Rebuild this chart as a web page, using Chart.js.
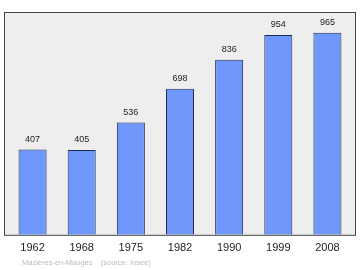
<!DOCTYPE html>
<html>
<head>
<meta charset="utf-8">
<script src="https://cdn.jsdelivr.net/npm/chart.js@4"></script>
<style>
  html, body { margin: 0; padding: 0; background: #fff; }
  #wrap { width: 360px; height: 270px; }
</style>
</head>
<body>
<div id="wrap"><canvas id="popChart"></canvas></div>
<script>
// data
const years = ['1962', '1968', '1975', '1982', '1990', '1999', '2008'];
const population = [407, 405, 536, 698, 836, 954, 965];
const townName = 'Mazières-en-Mauges';
const sourceText = '(source: Insee)';

// frame sits a little outside the chart area
const margin = 4;

// background + frame + labels
const decor = {
  id: 'decor',
  beforeDatasetsDraw(chart) {
    const { ctx, chartArea: a } = chart;
    ctx.save();
    ctx.fillStyle = '#eeeeee';
    ctx.fillRect(a.left - margin, a.top, a.right - a.left + 2 * margin, a.bottom - a.top);
    ctx.restore();
  },
  afterDatasetsDraw(chart) {
    const { ctx, chartArea: a } = chart;
    ctx.save();
    ctx.strokeStyle = '#444';
    ctx.lineWidth = 1;
    ctx.strokeRect(a.left - margin + 0.5, a.top + 0.5, a.right - a.left + 2 * margin - 1, a.bottom - a.top);

    // value labels
    ctx.fillStyle = '#222';
    ctx.font = '9px "Liberation Sans", Arial, sans-serif';
    ctx.textAlign = 'center';
    ctx.textBaseline = 'bottom';
    chart.getDatasetMeta(0).data.forEach((bar, i) => {
      ctx.fillText(population[i], bar.x, bar.y - 6);
    });

    // footer
    ctx.fillStyle = '#bbb';
    ctx.font = '7.5px "Liberation Sans", Arial, sans-serif';
    ctx.textAlign = 'left';
    ctx.textBaseline = 'middle';
    ctx.fillText(townName + '    ' + sourceText, 22, 263);
    ctx.restore();
  }
};

new Chart(document.getElementById('popChart'), {
  type: 'bar',
  data: {
    labels: years,
    datasets: [{
      data: population,
      backgroundColor: '#7097fb',
      borderColor: '#1f2d55',
      borderWidth: 1,
      borderSkipped: 'bottom',
      categoryPercentage: 0.57,
      barPercentage: 1
    }]
  },
  options: {
    responsive: true,
    maintainAspectRatio: false,
    animation: false,
    layout: { padding: { left: 8, right: 8, top: 12, bottom: 8 } },
    plugins: { legend: { display: false }, tooltip: { enabled: false } },
    scales: {
      y: { display: false, min: 0, max: 1064 },
      x: {
        grid: { display: false, drawTicks: false },
        border: { display: false },
        ticks: { color: '#222', font: { size: 11, family: '"Liberation Sans", Arial, sans-serif' }, padding: 7 }
      }
    }
  },
  plugins: [decor]
});
</script>
</body>
</html>
